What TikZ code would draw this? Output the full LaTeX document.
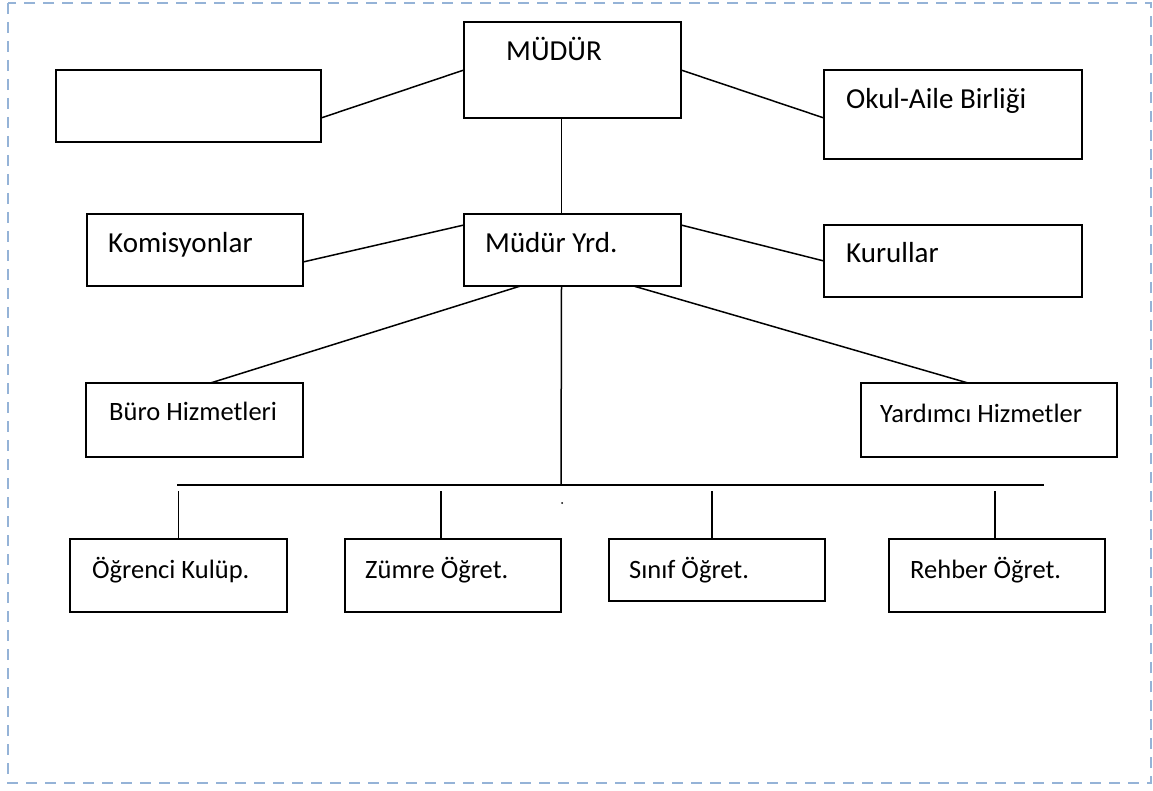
\documentclass[tikz,border=0pt]{standalone}
\usepackage{fontspec}
\setmainfont{Carlito}
\definecolor{cercevemavi}{RGB}{149,179,215}
\tikzset{
    kutu/.style={draw,line width=1.8pt,rectangle,inner sep=0,outer sep=0},
    buyuk/.style={anchor=base west,inner sep=0,font=\fontsize{29}{34}\selectfont},
    kucuk/.style={anchor=base west,inner sep=0,font=\fontsize{26.5}{31}\selectfont},
    bag/.style={line width=1.5pt},
}
\begin{document}
\begin{tikzpicture}[x=1pt,y=-1pt]
        \useasboundingbox (0,0) rectangle (1153,791);
        \draw[cercevemavi,line width=2pt,dash pattern=on 11pt off 8pt] (8,3) rectangle (1151,783);
        % ust sira
        \node[kutu,minimum width=217,minimum height=96] (mudur) at (572.5,70) {};
        \node[kutu,minimum width=265,minimum height=72] (bos) at (188.5,106) {};
        \node[kutu,minimum width=258,minimum height=89] (okul) at (953,114.5) {};
        \node[buyuk] (mudurT) at (506,61) {MÜDÜR};
        \node[buyuk] (okulT) at (846,109) {Okul-Aile Birliği};
        \draw[bag] (mudur.west |- bos.north) -- (bos.east |- mudur.south);
        \draw[bag] (mudur.east |- okul.north) -- (okul.west |- mudur.south);
        % ikinci sira
        \node[kutu,minimum width=217,minimum height=72] (yrd) at (572.5,250) {};
        \node[kutu,minimum width=216,minimum height=72] (komis) at (195,250) {};
        \node[kutu,minimum width=258,minimum height=72] (kurul) at (953,261) {};
        \node[buyuk] (yrdT) at (485,253) {Müdür Yrd.};
        \node[buyuk] (komisT) at (108,253) {Komisyonlar};
        \node[buyuk] (kurulT) at (846,263) {Kurullar};
        \draw[bag] ([xshift=-11pt]mudur.south) -- ([xshift=-11pt]yrd.north);
        \draw[bag] (yrd.west |- kurul.north) -- ([yshift=-12pt]komis.east);
        \draw[bag] (yrd.east |- kurul.north) -- (kurul.west);
        % hizmetler
        \node[kutu,minimum width=217,minimum height=74] (buro) at (194.5,420) {};
        \node[kutu,minimum width=256,minimum height=74] (yardim) at (989,420) {};
        \node[kucuk] (buroT) at (109,420) {Büro Hizmetleri};
        \node[kucuk] (yardimT) at (880,422) {Yardımcı Hizmetler};
        \draw[bag] ([xshift=-52pt]yrd.south) -- ([xshift=16pt]buro.north);
        \draw[bag] ([xshift=61pt]yrd.south) -- ([xshift=-21pt]yardim.north);
        % ogretmenler
        \coordinate (hatL) at (177,485);
        \coordinate (hat) at (561,485);
        \coordinate (hatR) at (1044,485);
        \draw[bag] ([xshift=-11pt]yrd.south) -- (hat);
        \draw[line width=2.2pt] (hatL) -- (hatR);
        \fill (562,503) circle (1);
        \node[kutu,minimum width=217,minimum height=73] (ogr) at (178.5,575.5) {};
        \node[kutu,minimum width=216,minimum height=73] (zumre) at (453,575.5) {};
        \node[kutu,minimum width=216,minimum height=62] (sinif) at (717,570) {};
        \node[kutu,minimum width=216,minimum height=73] (rehber) at (997,575.5) {};
        \node[kucuk] (ogrT) at (92,578) {Öğrenci Kulüp.};
        \node[kucuk] (zumreT) at (365,578) {Zümre Öğret.};
        \node[kucuk] (sinifT) at (629,578) {Sınıf Öğret.};
        \node[kucuk] (rehberT) at (910,578) {Rehber Öğret.};
        \draw[bag] ([yshift=48pt]ogr.north) -- (ogr.north);
        \draw[bag] ([xshift=-12pt,yshift=48pt]zumre.north) -- ([xshift=-12pt]zumre.north);
        \draw[bag] ([xshift=-5pt,yshift=48pt]sinif.north) -- ([xshift=-5pt]sinif.north);
        \draw[bag] ([xshift=-2pt,yshift=48pt]rehber.north) -- ([xshift=-2pt]rehber.north);
\end{tikzpicture}
\end{document}
